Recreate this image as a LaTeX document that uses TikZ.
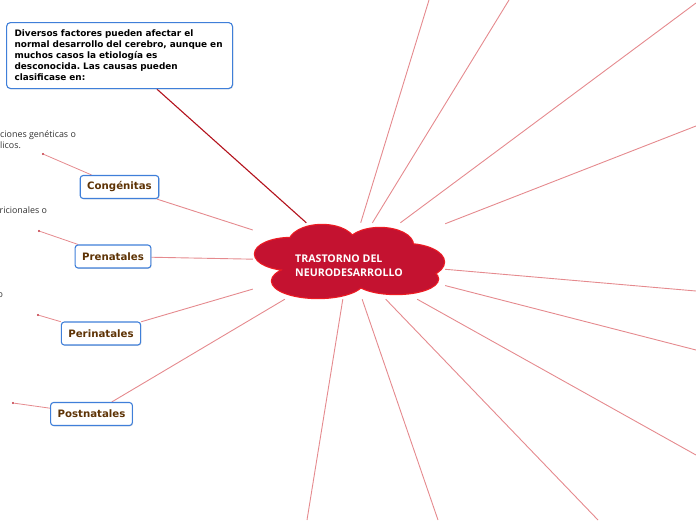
\documentclass[tikz,border=0pt]{standalone}
\usepackage{fontspec}
\setmainfont{Open Sans}
\newfontfamily\boxfont{DejaVu Sans}
\newfontfamily\smallfont{Open Sans}
\usetikzlibrary{shadows,backgrounds}
\frenchspacing
\definecolor{crim}{HTML}{C41230}
\definecolor{cloudedge}{HTML}{EC1C24}
\definecolor{lightline}{HTML}{E58A8E}
\definecolor{darkline}{HTML}{B3121C}
\definecolor{boxblue}{HTML}{3F7FD9}
\definecolor{brown}{HTML}{5E3305}
\definecolor{dotred}{HTML}{C0303A}
\definecolor{greytext}{HTML}{333333}
\tikzset{
  catbox/.style={draw=boxblue, line width=1.1pt, fill=white, rounded corners=3pt,
    font=\boxfont\bfseries\fontsize{10.2}{12}\selectfont, text=brown,
    minimum height=23pt, inner xsep=7pt, inner ysep=0pt,
    drop shadow={shadow xshift=0.8pt, shadow yshift=-0.8pt, opacity=0.25}},
  infobox/.style={draw=boxblue, line width=1.1pt, fill=white, rounded corners=4pt,
    font=\boxfont\bfseries\fontsize{8.9}{11}\selectfont, text=black, align=left,
    text width=210pt, minimum height=66pt, inner xsep=8pt, inner ysep=3pt,
    drop shadow={shadow xshift=0.8pt, shadow yshift=-0.8pt, opacity=0.25}},
  radial/.style={draw=lightline, line width=0.9pt},
  mainlink/.style={draw=darkline, line width=1.1pt},
  leaftext/.style={font=\smallfont\fontsize{8.9}{11}\selectfont, text=greytext, align=left, inner sep=0pt},
  leafdot/.style={circle, fill=dotred, inner sep=0pt, minimum size=2.2pt}
}
\begin{document}
\begin{tikzpicture}[x=1pt, y=-1pt]
\useasboundingbox (0,0) rectangle (696,520);
\clip (0,0) rectangle (696,520);

% invisible bounding node of the central cloud
\node[minimum width=192pt, minimum height=76pt, inner sep=0pt] (cloud) at (349,261) {};

% far ends of the radial connectors
\coordinate (r1) at (429,0);
\coordinate (r2) at (509,0);
\coordinate (r3) at (696,3);
\coordinate (r4) at (696,126);
\coordinate (r5) at (696,291);
\coordinate (r6) at (696,350);
\coordinate (r7) at (696,455);
\coordinate (r8) at (598,520);
\coordinate (r9) at (438,520);
\coordinate (r10) at (307,520);

% boxes
\node[infobox, anchor=north west] (info) at (6,22) {Diversos factores pueden afectar el\\normal desarrollo del cerebro, aunque en\\muchos casos la etiología es\\desconocida. Las causas pueden\\clasificase en:};
\node[catbox] (cong) at (119.5,187) {Congénitas};
\node[catbox] (pren) at (113,256.5) {Prenatales};
\node[catbox] (peri) at (101,333.5) {Perinatales};
\node[catbox] (post) at (91.5,414) {Postnatales};

% leaf dots
\node[leafdot] (d1) at (43,154) {};
\node[leafdot] (d2) at (39,231) {};
\node[leafdot] (d3) at (38,315) {};
\node[leafdot] (d4) at (13,403) {};

% leaf texts (cut by the left edge)
\node[leaftext, anchor=base west] (t1) at (0,148) {ciones genéticas o\\licos.};
\node[leaftext, anchor=base west] (t2) at (-0.5,213.5) {ricionales o};
\node[leaftext, anchor=base west] (t3) at (-2.5,297) {o};

% connectors
\begin{scope}[on background layer]
\foreach \r in {r1,r2,r3,r4,r5,r6,r7,r8,r9,r10}{\draw[radial] (cloud) -- (\r);}
\draw[radial] (cloud) -- (cong);
\draw[radial] (cloud) -- (pren);
\draw[radial] (cloud) -- (peri);
\draw[radial] (cloud) -- (post);
\draw[mainlink] (cloud) -- (info);
\draw[radial, line width=0.8pt] (cong) -- (d1);
\draw[radial, line width=0.8pt] (pren) -- (d2);
\draw[radial, line width=0.8pt] (peri) -- (d3);
\draw[radial, line width=0.8pt] (post) -- (d4);
\end{scope}

% cloud shape
\def\lobes{
  (322,243) ellipse [x radius=33, y radius=18]
  (380,245) ellipse [x radius=33, y radius=17]
  (291,254) ellipse [x radius=36, y radius=16]
  (405,262) ellipse [x radius=39, y radius=18]
  (318,281) ellipse [x radius=46, y radius=17]
  (396,279) ellipse [x radius=42, y radius=15]
  (350,262) ellipse [x radius=70, y radius=26]}
\draw[cloudedge, line width=2.4pt] \lobes;
\fill[crim] \lobes;

\node[font=\bfseries\fontsize{10.6}{14}\selectfont, text=white, align=left] (title) at (349,266) {TRASTORNO DEL\\NEURODESARROLLO};
\end{tikzpicture}
\end{document}
